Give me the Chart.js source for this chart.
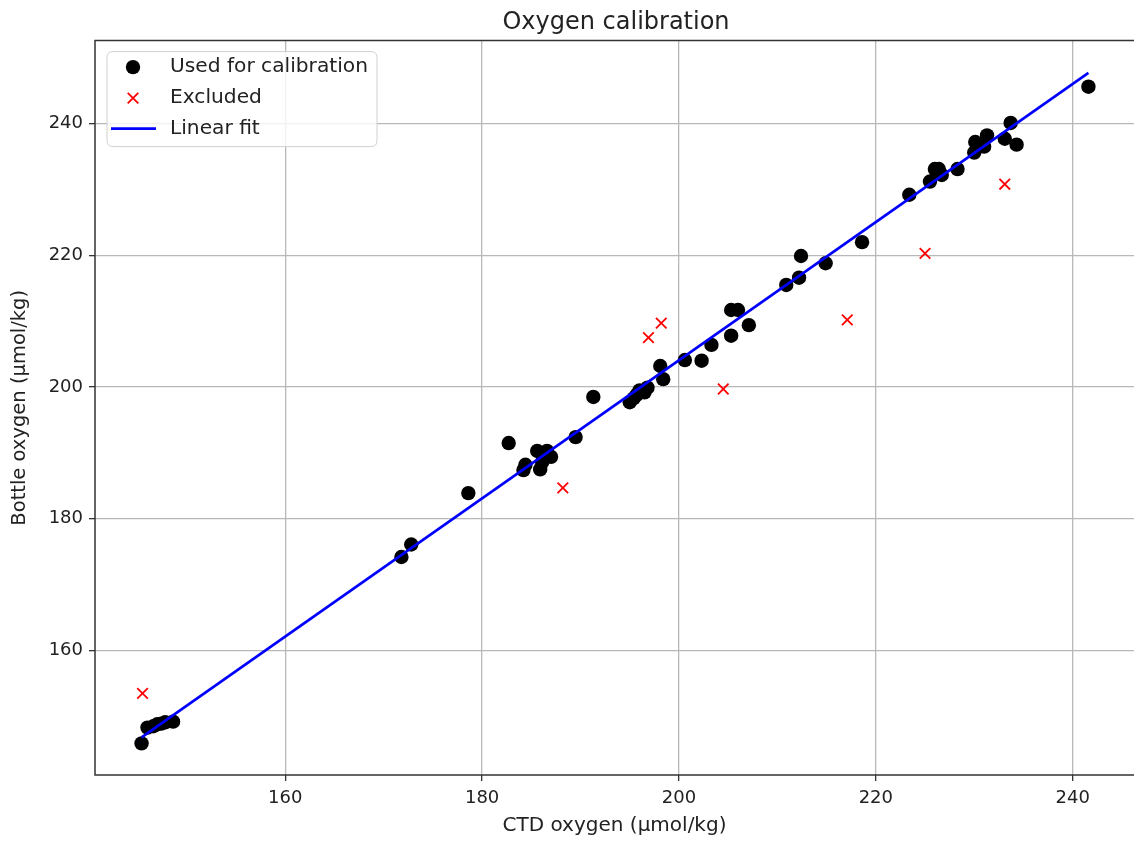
<!DOCTYPE html>
<html><head><meta charset="utf-8">
<script src="https://cdn.jsdelivr.net/npm/chart.js@4.4.1/dist/chart.umd.min.js"></script>
<style>html,body{margin:0;padding:0;background:#fff;overflow:hidden}#wrap{position:relative;width:1134px;height:843px}</style>
</head><body><div id="wrap"><canvas id="c"></canvas></div>
<script>
const titleText = "Oxygen calibration";
const xLabel = "CTD oxygen (µmol/kg)";
const yLabel = "Bottle oxygen (µmol/kg)";
const seriesLabels = ["Used for calibration", "Excluded", "Linear fit"];
const xTicks = [160, 180, 200, 220, 240];
const yTicks = [160, 180, 200, 220, 240];
const xRange = [140.67, 246.23];
const yRange = [141.1, 252.6];

const usedX = [145.4, 146.0, 146.6, 147.0, 147.4, 147.8, 148.6, 171.8, 172.8, 178.6, 182.7, 184.2, 184.4, 185.6, 185.9, 186.1, 186.6, 187.0, 189.5, 191.3, 195.0, 195.4, 195.7, 196.0, 196.5, 196.8, 198.1, 198.4, 200.6, 202.3, 203.3, 205.3, 205.3, 206.0, 207.1, 210.9, 212.2, 212.4, 214.9, 218.6, 223.4, 225.5, 226.0, 226.4, 226.7, 228.3, 230.0, 230.1, 231.3, 231.0, 233.1, 233.7, 234.3, 241.6];
const usedY = [145.9, 148.3, 148.5, 148.8, 148.9, 149.1, 149.2, 174.2, 176.1, 183.9, 191.5, 187.4, 188.2, 190.3, 187.5, 188.6, 190.3, 189.4, 192.4, 198.5, 197.7, 198.3, 198.8, 199.5, 199.2, 199.9, 203.2, 201.2, 204.1, 204.0, 206.4, 207.8, 211.7, 211.7, 209.4, 215.5, 216.6, 219.9, 218.8, 222.0, 229.2, 231.2, 233.1, 233.1, 232.2, 233.1, 235.6, 237.2, 238.2, 236.5, 237.7, 240.1, 236.8, 245.6];
const exclX = [145.5, 188.2, 196.9, 198.2, 204.5, 217.1, 225.0, 233.1];
const exclY = [153.5, 184.7, 207.5, 209.7, 199.7, 210.2, 220.3, 230.8];
const fitX = [145.4, 241.6];
const fitY = [146.8, 247.7];

const FONT = "'DejaVu Sans', sans-serif";
Chart.defaults.font.family = FONT;
Chart.defaults.color = '#222';

const toPts = (xs, ys) => xs.map((x, i) => ({x: x, y: ys[i]}));

const framePlugin = {
  id: 'frame',
  afterDatasetsDraw(chart) {
    const {ctx, chartArea: a} = chart;
    ctx.save();
    ctx.strokeStyle = '#333';
    ctx.lineWidth = 1.5;
    ctx.beginPath();
    ctx.moveTo(a.right + 5, a.top);
    ctx.lineTo(a.left, a.top);
    ctx.lineTo(a.left, a.bottom);
    ctx.lineTo(a.right + 5, a.bottom);
    ctx.stroke();
    // title centred over the full axes box (the right spine lies just past the canvas edge)
    ctx.fillStyle = '#222';
    ctx.font = "24px " + FONT;
    ctx.textAlign = 'center';
    ctx.textBaseline = 'alphabetic';
    ctx.fillText(chart.options.plugins.frame.title, (a.left + a.right + 3) / 2, 28.5);
    ctx.restore();
  }
};

const legendPlugin = {
  id: 'boxLegend',
  afterDraw(chart) {
    const {ctx, chartArea: a} = chart;
    const ds = chart.data.datasets;
    const lx = a.left + 12, ly = a.top + 11, lw = 270, lh = 95, r = 6;
    ctx.save();
    ctx.beginPath();
    ctx.moveTo(lx + r, ly);
    ctx.lineTo(lx + lw - r, ly);
    ctx.quadraticCurveTo(lx + lw, ly, lx + lw, ly + r);
    ctx.lineTo(lx + lw, ly + lh - r);
    ctx.quadraticCurveTo(lx + lw, ly + lh, lx + lw - r, ly + lh);
    ctx.lineTo(lx + r, ly + lh);
    ctx.quadraticCurveTo(lx, ly + lh, lx, ly + lh - r);
    ctx.lineTo(lx, ly + r);
    ctx.quadraticCurveTo(lx, ly, lx + r, ly);
    ctx.closePath();
    ctx.fillStyle = 'rgba(255,255,255,0.8)';
    ctx.fill();
    ctx.strokeStyle = '#d0d0d0';
    ctx.lineWidth = 1;
    ctx.stroke();
    const rows = [ly + 15.5, ly + 46.5, ly + 77];
    const mx = lx + 26;
    ds.forEach((d, i) => {
      const y = rows[i];
      if (d.showLine) {
        ctx.strokeStyle = d.borderColor;
        ctx.lineWidth = d.borderWidth;
        ctx.beginPath();
        ctx.moveTo(lx + 4, y);
        ctx.lineTo(lx + 49, y);
        ctx.stroke();
      } else {
        ctx.fillStyle = d.backgroundColor;
        ctx.strokeStyle = d.borderColor;
        ctx.lineWidth = d.borderWidth;
        ctx.beginPath();
        Chart.helpers.drawPoint(ctx, {
          pointStyle: d.pointStyle, radius: d.pointRadius, rotation: 0,
          borderWidth: d.borderWidth
        }, mx, y);
      }
      ctx.fillStyle = '#222';
      ctx.font = "20.2px " + FONT;
      ctx.textBaseline = 'middle';
      ctx.textAlign = 'left';
      ctx.fillText(d.label, lx + 63, y);
    });
    ctx.restore();
  }
};

new Chart(document.getElementById('c'), {
  type: 'scatter',
  data: {
    datasets: [
      {
        label: seriesLabels[0], data: toPts(usedX, usedY),
        pointStyle: 'circle', pointRadius: 7.2, borderWidth: 0,
        backgroundColor: '#000', borderColor: '#000', order: 2
      },
      {
        label: seriesLabels[1], data: toPts(exclX, exclY),
        pointStyle: 'crossRot', pointRadius: 7.5, borderWidth: 1.8,
        backgroundColor: '#ff0000', borderColor: '#ff0000', order: 1
      },
      {
        label: seriesLabels[2], data: toPts(fitX, fitY),
        showLine: true, pointRadius: 0, borderWidth: 2.7,
        borderColor: '#0000ff', backgroundColor: '#0000ff', order: 0
      }
    ]
  },
  options: {
    responsive: true, maintainAspectRatio: false, animation: false, events: [],
    layout: {autoPadding: false, padding: {top: 40.6, left: 0, right: 0, bottom: 0}},
    plugins: {
      legend: {display: false},
      tooltip: {enabled: false},
      title: {display: false},
      frame: {title: titleText}
    },
    scales: {
      x: {
        type: 'linear', min: xRange[0], max: xRange[1],
        afterBuildTicks: s => { s.ticks = xTicks.map(v => ({value: v})); },
        afterFit: s => { s.height = 68; s.paddingLeft = 0; s.paddingRight = 0; },
        ticks: {font: {size: 18}, color: '#222', padding: 7, maxRotation: 0,
          callback: v => String(v)},
        grid: {color: '#b8b8b8', lineWidth: 1.3, tickColor: '#333', tickLength: 6, tickWidth: 1.3},
        border: {display: false},
        title: {display: true, text: xLabel, font: {size: 20}, color: '#222', padding: {top: 0, bottom: 5}}
      },
      y: {
        type: 'linear', min: yRange[0], max: yRange[1],
        afterBuildTicks: s => { s.ticks = yTicks.map(v => ({value: v})); },
        afterFit: s => { s.width = 95; s.paddingTop = 0; s.paddingBottom = 0; },
        ticks: {font: {size: 18}, color: '#222', padding: 6, callback: v => String(v)},
        grid: {color: '#b8b8b8', lineWidth: 1.3, tickColor: '#333', tickLength: 6, tickWidth: 1.3},
        border: {display: false},
        title: {display: true, text: yLabel, font: {size: 19.5}, color: '#222', padding: {top: 8.5, bottom: 0}}
      }
    }
  },
  plugins: [framePlugin, legendPlugin]
});
</script>
</body></html>
